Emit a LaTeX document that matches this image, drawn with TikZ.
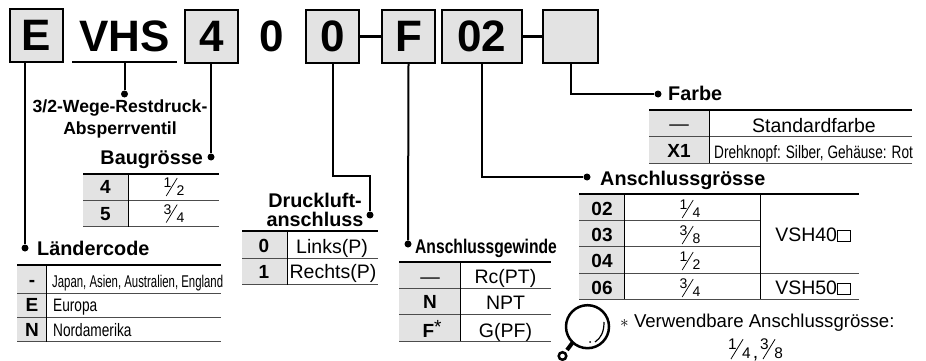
\documentclass[tikz,border=0pt]{standalone}
\usepackage{fontspec}
\setmainfont{Liberation Sans}
\newcommand{\frc}[2]{{\fontsize{14}{14}\selectfont\rlap{\tikz[baseline=0pt,x=1pt,y=1pt]{\path (0,0); \draw[line width=.7pt] (2.5,-.5) -- (13.5,17.5);}}\raisebox{8pt}{#1}\kern5pt #2}}
\newcommand{\sq}{\tikz[baseline=0pt]\draw[line width=.7pt,x=1pt,y=1pt] (0,0) rectangle (13,11);}
\newcommand{\thin}[2]{\scalebox{#1}[1]{#2}}
\tikzset{x=1pt,y=-1pt,
	codebox/.style={draw,line width=2pt,fill=black!11,font=\fontsize{44}{44}\bfseries,inner sep=0pt,minimum height=53pt,text height=31pt,text depth=0pt},
	plaincode/.style={font=\fontsize{44}{44}\bfseries,inner sep=0pt,anchor=base},
	conline/.style={line width=2pt},
	linkline/.style={line width=3.2pt},
	topline/.style={line width=2pt},
	rowline/.style={line width=.9pt,black!70},
	colline/.style={line width=.9pt},
	dot/.style={circle,fill=black,inner sep=0pt,minimum size=7pt},
	heading/.style={font=\fontsize{19.8}{19}\bfseries,inner sep=0pt,align=center},
	keycell/.style={font=\fontsize{19}{19}\bfseries,inner sep=0pt,anchor=base},
	valcell/.style={font=\fontsize{19.5}{19.5}\selectfont,inner sep=0pt,anchor=base},
	narrowcell/.style={font=\fontsize{18}{18}\selectfont,inner sep=0pt,anchor=base west},
	shade/.style={fill=black!11,draw=none},
}
\begin{document}
\begin{tikzpicture}
	\useasboundingbox (0,0) rectangle (926,361);
	% code row
	\node [codebox,minimum width=53pt] (cE) at (36,35.5) {E};
	\node [plaincode] (cVHS) at (124.5,52) {VHS};
	\node [codebox,minimum width=53pt] (cFour) at (211.5,36.5) {4};
	\node [plaincode] (cZero) at (272,52) {0};
	\node [codebox,minimum width=53pt] (cPort) at (332.5,36.5) {0};
	\node [codebox,minimum width=53pt] (cF) at (408.5,36.5) {F};
	\node [codebox,minimum width=80pt] (cSize) at (482,36.5) {02};
	\node [codebox,minimum width=55pt] (cColor) at (570.5,36.5) {};
	\draw [linkline] (cPort) -- (cF);
	\draw [linkline] (cSize) -- (cColor);
	\draw [topline] (72,62.5) coordinate (vl) -- (177,62.5) coordinate (vr);
	% Laendercode
	\node [dot] (dE) at (25,248) {};
	\draw [conline] (cE.south -| dE) -- (dE);
	\node [heading,anchor=base west] (hE) at (37,255) {Ländercode};
	\fill [shade] (17,265) rectangle (46.5,342);
	\draw [topline] (17,264.5) -- (221,264.5);
	\draw [rowline] (17,293.5) -- (221,293.5) (17,317.5) -- (221,317.5) (17,341.5) -- (221,341.5);
	\draw [colline] (46.5,265) -- (46.5,342);
	\node [keycell] (kE1) at (32,286) {-};
	\node [keycell] (kE2) at (32,311) {E};
	\node [keycell] (kE3) at (32,336) {N};
	\node [narrowcell,font=\fontsize{17}{17}\selectfont] (vE1) at (52,287) {\thin{.67}{Japan, Asien, Australien, England}};
	\node [narrowcell] (vE2) at (53,311) {\thin{.76}{Europa}};
	\node [narrowcell] (vE3) at (53,336) {\thin{.76}{Nordamerika}};
	% Ventil
	\coordinate (vm) at (124.5,62.5);
	\node [dot] (dV) at (124.5,94) {};
	\draw [conline] (vm) -- (dV);
	\node [heading,font=\fontsize{17.6}{21.5}\bfseries] (hV) at (120,119) {3/2-Wege-Restdruck-\\Absperrventil};
	% Baugroesse
	\node [dot] (dB) at (211,157) {};
	\draw [conline] (cFour.south -| dB) -- (dB);
	\node [heading,anchor=base east] (hB) at (203,164) {Baugrösse};
	\fill [shade] (83,175) rectangle (128,227);
	\draw [topline] (83,174) -- (219,174);
	\draw [rowline] (83,200.5) -- (219,200.5) (83,226.5) -- (219,226.5);
	\draw [colline] (128,175) -- (128,227);
	\node [keycell] (kB1) at (105.5,193) {4};
	\node [keycell] (kB2) at (105.5,220) {5};
	\node [valcell] (vB1) at (174,195.5) {\frc{1}{2}};
	\node [valcell] (vB2) at (174,222) {\frc{3}{4}};
	% Druckluftanschluss
	\coordinate (bD) at (370,176);
	\node [dot] (dD) at (370,215) {};
	\draw [conline] (cPort.south) |- (bD) -- (dD);
	\node [heading] (hD) at (315,209.5) {Druckluft-\\anschluss};
	\fill [shade] (242,232) rectangle (287,285);
	\draw [topline] (242,231) -- (378,231);
	\draw [rowline] (242,258) -- (378,258) (242,284.5) -- (378,284.5);
	\draw [colline] (287,232) -- (287,285);
	\node [keycell] (kD1) at (264,252) {0};
	\node [keycell] (kD2) at (264,278) {1};
	\node [valcell] (vD1) at (332,253) {Links(P)};
	\node [valcell] (vD2) at (333,278) {Rechts(P)};
	% Anschlussgewinde
	\node [dot] (dG) at (408,244) {};
	\draw [conline] (cF.south) -- (dG);
	\node [heading,anchor=base west] (hG) at (415,253) {\thin{.79}{Anschlussgewinde}};
	\fill [shade] (399,262) rectangle (460,341);
	\draw [topline] (399,261.5) -- (551,261.5);
	\draw [rowline] (399,288) -- (551,288) (399,314.5) -- (551,314.5) (399,341) -- (551,341);
	\draw [colline] (460,262) -- (460,341);
	\node [valcell] (kG1) at (430,283.5) {—};
	\node [keycell] (kG2) at (430,308) {N};
	\node [keycell] (kG3) at (432,337) {F\raisebox{4pt}{\mdseries *}};
	\node [valcell] (vG1) at (505.5,283) {Rc(PT)};
	\node [valcell] (vG2) at (505.5,309) {NPT};
	\node [valcell] (vG3) at (505.5,337) {G(PF)};
	% Anschlussgroesse
	\node [dot] (dS) at (587,177) {};
	\draw [conline] (cSize.south) |- (dS);
	\node [heading,anchor=base west] (hS) at (600,185) {Anschlussgrösse};
	\fill [shade] (579,195) rectangle (624.5,299);
	\draw [topline] (579,194) -- (859,194);
	\draw [rowline] (579,220) -- (760.5,220) (579,246) -- (760.5,246) (579,273) -- (859,273) (579,299) -- (859,299);
	\draw [colline] (624.5,195) -- (624.5,299) (760.5,195) -- (760.5,299);
	\foreach \yy/\kk/\aa/\bb in {215/02/1/4,241/03/3/8,267/04/1/2,294/06/3/4}{
		\node [keycell] (k\kk) at (602,\yy) {\kk};
		\node [valcell] (v\kk) at (690,\yy+2.5) {\frc{\aa}{\bb}};
	}
	\node [valcell] (vS1) at (813,241) {VSH40\sq};
	\node [valcell] (vS2) at (813,294) {VSH50\sq};
	% Farbe
	\node [dot] (dF) at (658,94) {};
	\draw [conline] (cColor.south) |- (dF);
	\node [heading,anchor=base west] (hF) at (668,100) {Farbe};
	\fill [shade] (649,111) rectangle (709,163);
	\draw [topline] (649,110) -- (912,110);
	\draw [rowline] (649,136.5) -- (912,136.5) (649,163) -- (912,163);
	\draw [colline] (709,111) -- (709,163);
	\node [valcell] (kF1) at (679,130.5) {—};
	\node [keycell] (kF2) at (679,157) {X1};
	\node [valcell] (vF1) at (814,132) {Standardfarbe};
	\node [narrowcell] (vF2) at (714,158) {\thin{.757}{Drehknopf: Silber, Gehäuse: Rot}};
	% Hinweis
	\draw [line width=2.5pt] (587.5,326.7) circle (21.5);
	\draw [line width=4pt] (573,342) -- (567,350);
	\draw [line width=2.5pt] (562.5,356) circle (3.8);
	\draw [line width=1.2pt] (604,322) .. controls (604,332) and (601,338) .. (595,342);
	\fill (590,342) circle (1);
	\node [valcell,font=\fontsize{18.6}{18.6}\selectfont,anchor=base west] (note) at (620,327) {$*$ Verwendbare Anschlussgrösse:};
	\node [valcell] (noteval) at (755.5,358.5) {\scalebox{1.1}{\frc{1}{4}}\kern2pt,\kern2pt\scalebox{1.1}{\frc{3}{8}}};
\end{tikzpicture}
\end{document}
